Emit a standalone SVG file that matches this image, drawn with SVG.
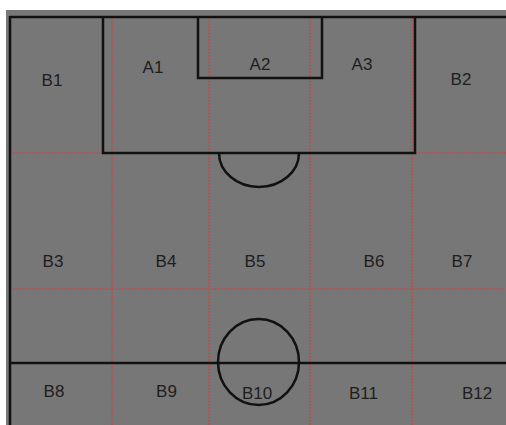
<svg xmlns="http://www.w3.org/2000/svg" width="506" height="425" viewBox="0 0 506 425">
<style>
.grid{stroke:#c04a4a;stroke-width:2.2;stroke-dasharray:1.6 1.6;fill:none;opacity:0.85}
.line{stroke:#111;stroke-width:2.5;fill:none}
.lbl{font-family:"Liberation Sans",Arial,sans-serif;font-size:17px;fill:#1e1e1e;text-anchor:middle}
</style>
<rect x="0" y="0" width="506" height="425" fill="#ffffff"/>
<rect x="6" y="10" width="500" height="415" fill="#777777"/>
<g id="grid">
<line class="grid" x1="112" y1="17" x2="112" y2="425"/>
<line class="grid" x1="209" y1="17" x2="209" y2="425"/>
<line class="grid" x1="310" y1="17" x2="310" y2="425"/>
<line class="grid" x1="412" y1="17" x2="412" y2="425"/>
<line class="grid" x1="10" y1="153" x2="103" y2="153"/>
<line class="grid" x1="415" y1="153" x2="506" y2="153"/>
<line class="grid" x1="10" y1="289" x2="506" y2="289"/>
</g>
<g id="field-lines">
<line class="line" x1="10" y1="17" x2="506" y2="17"/>
<line class="line" x1="10" y1="16" x2="10" y2="425"/>
<polyline class="line" points="103,17 103,153 415,153 415,17"/>
<polyline class="line" points="198,17 198,78 322,78 322,17"/>
<path class="line" d="M219,153 A40,34 0 0 0 299,153"/>
<line class="line" x1="10" y1="363" x2="506" y2="363"/>
<ellipse class="line" cx="258.5" cy="362" rx="40.5" ry="43"/>
</g>
<g id="A1"><text class="lbl" x="153" y="73">A1</text></g>
<g id="A2"><text class="lbl" x="260" y="70">A2</text></g>
<g id="A3"><text class="lbl" x="362" y="70">A3</text></g>
<g id="B1"><text class="lbl" x="52" y="86">B1</text></g>
<g id="B2"><text class="lbl" x="461" y="85">B2</text></g>
<g id="B3"><text class="lbl" x="53" y="267">B3</text></g>
<g id="B4"><text class="lbl" x="166" y="267">B4</text></g>
<g id="B5"><text class="lbl" x="255" y="267">B5</text></g>
<g id="B6"><text class="lbl" x="374" y="267">B6</text></g>
<g id="B7"><text class="lbl" x="462" y="267">B7</text></g>
<g id="B8"><text class="lbl" x="54" y="397">B8</text></g>
<g id="B9"><text class="lbl" x="166.5" y="397">B9</text></g>
<g id="B10"><text class="lbl" x="257" y="399">B10</text></g>
<g id="B11"><text class="lbl" x="363.5" y="399">B11</text></g>
<g id="B12"><text class="lbl" x="477" y="399">B12</text></g>
</svg>
